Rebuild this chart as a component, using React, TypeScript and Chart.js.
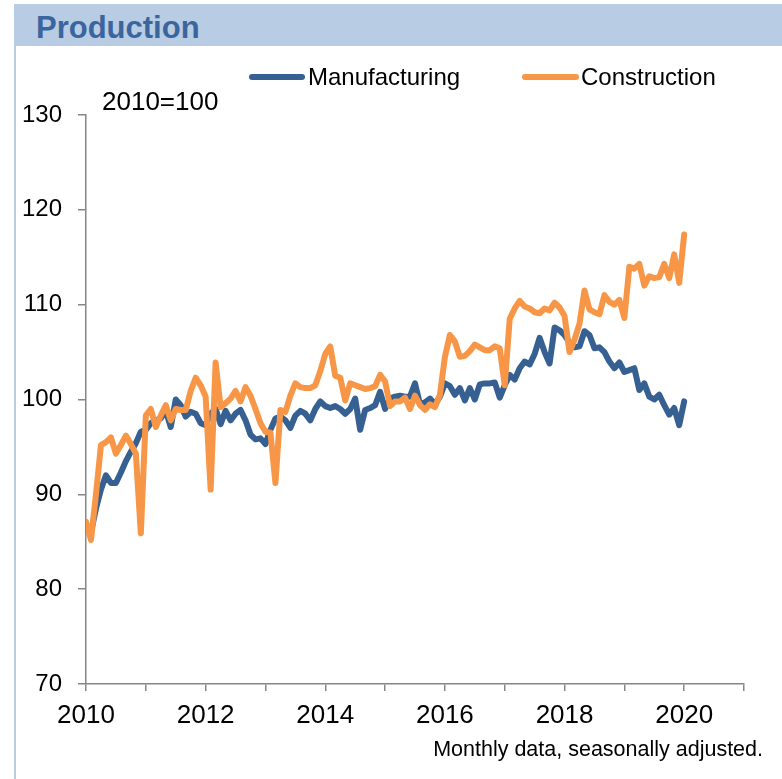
import React, { useEffect, useRef } from 'react';
import { Chart, registerables } from 'chart.js';

Chart.register(...registerables);

// Monthly index, 2010=100, Jan 2010 .. Jan 2020
const manufacturing = [
  86.5, 86.0, 88.5, 90.5, 92.0, 91.2, 91.2, 92.3, 93.5, 94.5, 95.4, 96.6,
  96.8, 97.5, 97.8, 98.0, 98.8, 97.1, 100.0, 99.4, 98.2, 98.7, 98.5, 97.5,
  97.3, 98.5, 99.0, 97.4, 98.8, 97.8, 98.5, 98.9, 97.8, 96.3, 95.8, 95.9,
  95.3, 96.8, 98.0, 98.2, 97.8, 97.0, 98.3, 98.8, 98.5, 97.8, 99.0, 99.8,
  99.3, 99.1, 99.3, 99.0, 98.5, 99.0, 100.1, 96.8, 98.9, 99.1, 99.4, 100.8,
  99.0, 100.1, 100.3, 100.4, 100.3, 100.3, 101.7, 99.5, 99.7, 100.1, 99.5, 100.3,
  101.7, 101.4, 100.5, 101.2, 99.9, 101.2, 100.0, 101.6, 101.7, 101.7, 101.8, 100.2,
  101.5, 102.6, 102.1, 103.3, 104.0, 103.7, 104.8, 106.5, 105.0, 103.8, 107.6, 107.3,
  106.8, 106.0, 105.5, 105.6, 107.2, 106.8, 105.4, 105.5, 105.0, 104.0, 103.3, 103.9,
  102.9, 103.1, 103.3, 101.0, 101.7, 100.3, 100.0, 100.5, 99.4, 98.4, 99.1, 97.3,
  99.8,
];

const construction = [
  87.1, 85.2, 90.0, 95.2, 95.5, 96.0, 94.3, 95.2, 96.2, 95.3, 94.3, 85.9,
  98.3, 99.0, 97.1, 98.3, 99.4, 97.8, 99.0, 98.9, 98.9, 100.9, 102.3, 101.5,
  100.3, 90.5, 103.9, 99.2, 99.6, 100.1, 100.9, 99.8, 101.3, 100.4, 99.0, 97.5,
  96.6, 96.5, 91.2, 98.9, 98.7, 100.4, 101.7, 101.3, 101.2, 101.2, 101.5, 103.0,
  104.8, 105.6, 102.5, 102.3, 99.9, 101.7, 101.5, 101.3, 101.1, 101.2, 101.4, 102.6,
  101.9, 99.3, 99.8, 99.8, 100.2, 99.0, 100.4, 99.4, 98.9, 99.5, 99.2, 100.5,
  104.5, 106.8, 106.1, 104.5, 104.6, 105.1, 105.8, 105.5, 105.2, 105.2, 105.6, 105.4,
  101.5, 108.5, 109.6, 110.4, 109.8, 109.6, 109.2, 109.1, 109.6, 109.4, 110.2, 109.7,
  108.8, 105.0, 106.3, 108.0, 111.5, 109.5, 109.2, 109.0, 111.0, 110.3, 110.0, 110.5,
  108.6, 114.0, 113.8, 114.3, 112.0, 113.0, 112.8, 112.9, 114.3, 112.8, 115.3, 112.3,
  117.4,
];

// one tick per year (every 12 months), labels on even years only
const xTickLabels = ['2010', '', '2012', '', '2014', '', '2016', '', '2018', '', '2020', ''];
const seriesNames = ['Manufacturing', 'Construction'];
const seriesColors = ['#376092', '#f79646'];

const FONT = '"Liberation Sans", Arial, sans-serif';
const AXIS_GREY = '#868686';

export default function App() {
  const ref = useRef<HTMLCanvasElement>(null);

  useEffect(() => {
    if (!ref.current) return;
    const chart = new Chart(ref.current, {
      type: 'line',
      data: {
        datasets: [
          {
            label: seriesNames[0],
            data: manufacturing.map((v, i) => ({ x: i, y: v })),
            borderColor: seriesColors[0],
            backgroundColor: seriesColors[0],
            borderWidth: 6,
            pointRadius: 0,
            tension: 0,
            borderJoinStyle: 'round',
            borderCapStyle: 'round',
            order: 1,
          },
          {
            label: seriesNames[1],
            data: construction.map((v, i) => ({ x: i, y: v })),
            borderColor: seriesColors[1],
            backgroundColor: seriesColors[1],
            borderWidth: 6,
            pointRadius: 0,
            tension: 0,
            borderJoinStyle: 'round',
            borderCapStyle: 'round',
            order: 0,
          },
        ],
      },
      options: {
        responsive: false,
        animation: false,
        events: [],
        layout: { padding: { top: 115, right: 38, bottom: 0, left: 0 } },
        plugins: { legend: { display: false }, tooltip: { enabled: false } },
        scales: {
          x: {
            type: 'linear',
            min: 0,
            max: (xTickLabels.length - 1) * 12,
            afterFit: (s: any) => { s.height = 95; },
            ticks: {
              stepSize: 12,
              autoSkip: false,
              maxRotation: 0,
              padding: 9,
              color: '#000',
              font: { family: FONT, size: 26 },
              callback: (v: any) => xTickLabels[Math.round(Number(v) / 12)] ?? '',
            },
            grid: { drawOnChartArea: false, drawTicks: true, tickLength: 7, color: AXIS_GREY, lineWidth: 1.5 },
            border: { display: true, color: AXIS_GREY, width: 1.5 },
          },
          y: {
            min: 70,
            max: 130,
            afterFit: (s: any) => { s.width = 86; },
            ticks: {
              stepSize: 10,
              padding: 16,
              color: '#000',
              font: { family: FONT, size: 24 },
            },
            grid: { drawOnChartArea: false, drawTicks: true, tickLength: 8, color: AXIS_GREY, lineWidth: 1.5 },
            border: { display: true, color: AXIS_GREY, width: 1.5 },
          },
        },
      },
    });
    return () => chart.destroy();
  }, []);

  const text = (size: number, extra: React.CSSProperties): React.CSSProperties => ({
    position: 'absolute',
    fontFamily: FONT,
    fontSize: size,
    lineHeight: `${size}px`,
    whiteSpace: 'nowrap',
    color: '#000',
    ...extra,
  });

  return (
    <div style={{ position: 'absolute', left: 0, top: 0, width: 782, height: 779, overflow: 'hidden', background: '#fff' }}>
      <canvas ref={ref} width={782} height={779} style={{ position: 'absolute', left: 0, top: 0 }} />
      <div style={{ position: 'absolute', left: 14, top: 4, width: 768, height: 42, background: '#b8cce4' }} />
      <div style={{ position: 'absolute', left: 14, top: 4, width: 2, height: 775, background: '#b8cce4' }} />
      <div style={text(31, { left: 36, top: 12, fontWeight: 'bold', color: '#3a659d' })}>Production</div>
      <div style={{ position: 'absolute', left: 249, top: 74, width: 56, height: 6, borderRadius: 3, background: seriesColors[0] }} />
      <div style={text(24, { left: 308, top: 65 })}>{seriesNames[0]}</div>
      <div style={{ position: 'absolute', left: 522, top: 74, width: 57, height: 6, borderRadius: 3, background: seriesColors[1] }} />
      <div style={text(24, { left: 581, top: 65 })}>{seriesNames[1]}</div>
      <div style={text(26, { left: 102, top: 88 })}>2010=100</div>
      <div style={text(21.5, { right: 782 - 763, top: 739 })}>Monthly data, seasonally adjusted.</div>
    </div>
  );
}
